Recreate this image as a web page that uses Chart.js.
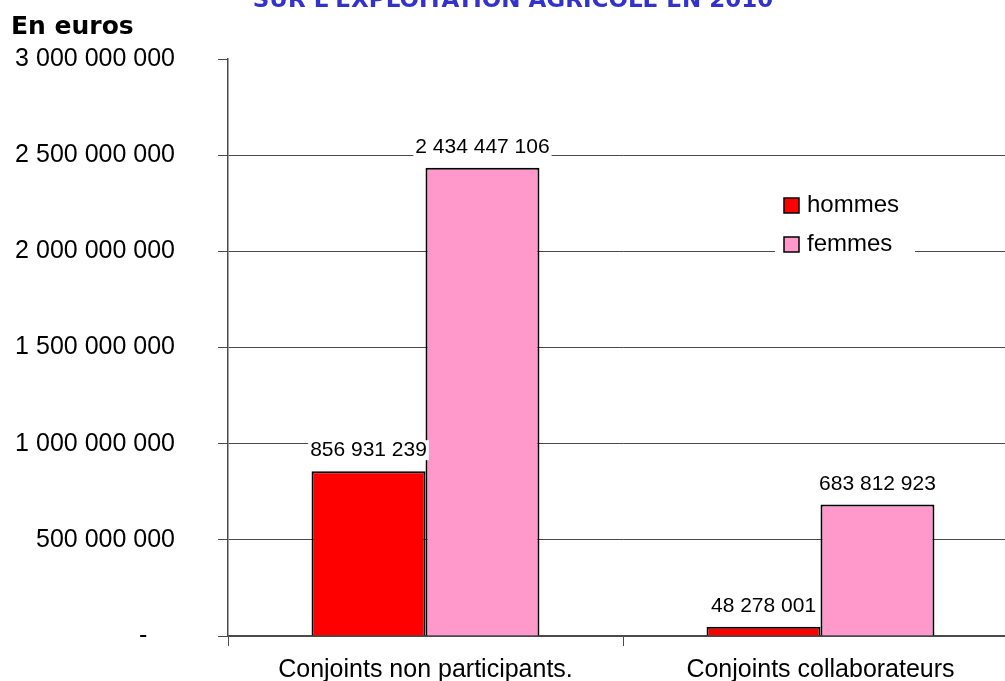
<!DOCTYPE html>
<html>
<head>
<meta charset="utf-8">
<script src="https://cdn.jsdelivr.net/npm/chart.js@4.4.0/dist/chart.umd.min.js"></script>
<style>
    html, body { margin: 0; padding: 0; background: #fff; overflow: hidden; }
    canvas { display: block; }
</style>
</head>
<body>
<canvas id="chart" width="1020" height="681"></canvas>
<script>
// Data
const categories = ['Conjoints non participants.', 'Conjoints collaborateurs'];
const hommes = [856931239, 48278001];
const femmes = [2434447106, 683812923];
const yTicks = [0, 500000000, 1000000000, 1500000000, 2000000000, 2500000000, 3000000000];
const titleText = "SUR L'EXPLOITATION AGRICOLE EN 2010";
const unitText = 'En euros';

const COLORS = {
    hommes: '#ff0000',
    femmes: '#ff99cc',
    grid: '#4a4a4a',
    title: '#3333cc'
};

// number with space thousands separator
const fmt = v => String(v).replace(/\B(?=(\d{3})+(?!\d))/g, ' ');

// title (cut at top), unit label, value labels and legend box
const decorPlugin = {
    id: 'decor',
    afterDatasetsDraw(chart) {
        const ctx = chart.ctx;
        ctx.save();
        // value labels
        ctx.font = '21px "Liberation Sans", Arial, sans-serif';
        ctx.textAlign = 'center';
        ctx.textBaseline = 'bottom';
        chart.data.datasets.forEach((ds, i) => {
            chart.getDatasetMeta(i).data.forEach((bar, j) => {
                const txt = fmt(ds.data[j]);
                const w = ctx.measureText(txt).width;
                ctx.fillStyle = '#fff';
                ctx.fillRect(bar.x - w / 2 - 2, bar.y - 31, w + 4, 20);
                ctx.fillStyle = '#000';
                ctx.fillText(txt, bar.x, bar.y - 10);
            });
        });

        // legend
        ctx.fillStyle = '#fff';
        ctx.fillRect(775, 186, 140, 76);
        const items = [
            { label: 'hommes', color: COLORS.hommes, y: 205 },
            { label: 'femmes', color: COLORS.femmes, y: 244 }
        ];
        ctx.font = '24px "Liberation Sans", Arial, sans-serif';
        ctx.textAlign = 'left';
        ctx.textBaseline = 'middle';
        items.forEach(it => {
            ctx.fillStyle = it.color;
            ctx.fillRect(784, it.y - 7, 15, 15);
            ctx.strokeStyle = '#000';
            ctx.lineWidth = 1.5;
            ctx.strokeRect(784, it.y - 7, 15, 15);
            ctx.fillStyle = '#000';
            ctx.fillText(it.label, 807, it.y);
        });

        // title and unit
        ctx.font = 'bold 23px "DejaVu Sans", Verdana, sans-serif';
        ctx.fillStyle = COLORS.title;
        ctx.textAlign = 'center';
        ctx.textBaseline = 'alphabetic';
        ctx.fillText(titleText, 513, 7);

        ctx.font = 'bold 25px "DejaVu Sans", Verdana, sans-serif';
        ctx.fillStyle = '#000';
        ctx.textAlign = 'left';
        ctx.fillText(unitText, 11, 34);
        ctx.restore();
    }
};

new Chart(document.getElementById('chart'), {
    type: 'bar',
    data: {
        labels: categories,
        datasets: [
            {
                label: 'hommes',
                data: hommes,
                backgroundColor: COLORS.hommes,
                borderColor: '#000',
                borderWidth: 2,
                categoryPercentage: 0.577,
                barPercentage: 1
            },
            {
                label: 'femmes',
                data: femmes,
                backgroundColor: COLORS.femmes,
                borderColor: '#000',
                borderWidth: 2,
                categoryPercentage: 0.577,
                barPercentage: 1
            }
        ]
    },
    options: {
        responsive: false,
        animation: false,
        layout: { padding: { top: 59, right: 2, left: 0, bottom: 0 } },
        plugins: {
            legend: { display: false },
            tooltip: { enabled: false }
        },
        scales: {
            x: {
                offset: true,
                grid: {
                    offset: true,
                    drawOnChartArea: false,
                    drawTicks: true,
                    tickLength: 10,
                    color: COLORS.grid
                },
                border: { color: COLORS.grid, width: 1.5 },
                ticks: {
                    color: '#000',
                    padding: 9,
                    maxRotation: 0,
                    font: { family: '"Liberation Sans", Arial, sans-serif', size: 25 }
                },
                afterFit(scale) {
                    scale.height = 45;
                    scale.paddingTop = 0;
                    scale.paddingBottom = 0;
                }
            },
            y: {
                min: 0,
                max: 3000000000,
                afterBuildTicks(scale) { scale.ticks = yTicks.map(v => ({ value: v })); },
                grid: {
                    color: ctx => (ctx.tick && ctx.tick.value === 3000000000) ? 'rgba(0,0,0,0)' : COLORS.grid,
                    tickColor: COLORS.grid,
                    tickLength: 10,
                    lineWidth: 1
                },
                border: { color: COLORS.grid, width: 1.5 },
                ticks: {
                    color: '#000',
                    padding: 43,
                    font: { family: '"Liberation Sans", Arial, sans-serif', size: 25 },
                    callback: v => v === 0 ? '-    ' : fmt(v)
                },
                afterFit(scale) {
                    scale.width = 228;
                    scale.paddingTop = 0;
                    scale.paddingBottom = 0;
                }
            }
        }
    },
    plugins: [decorPlugin]
});
</script>
</body>
</html>
